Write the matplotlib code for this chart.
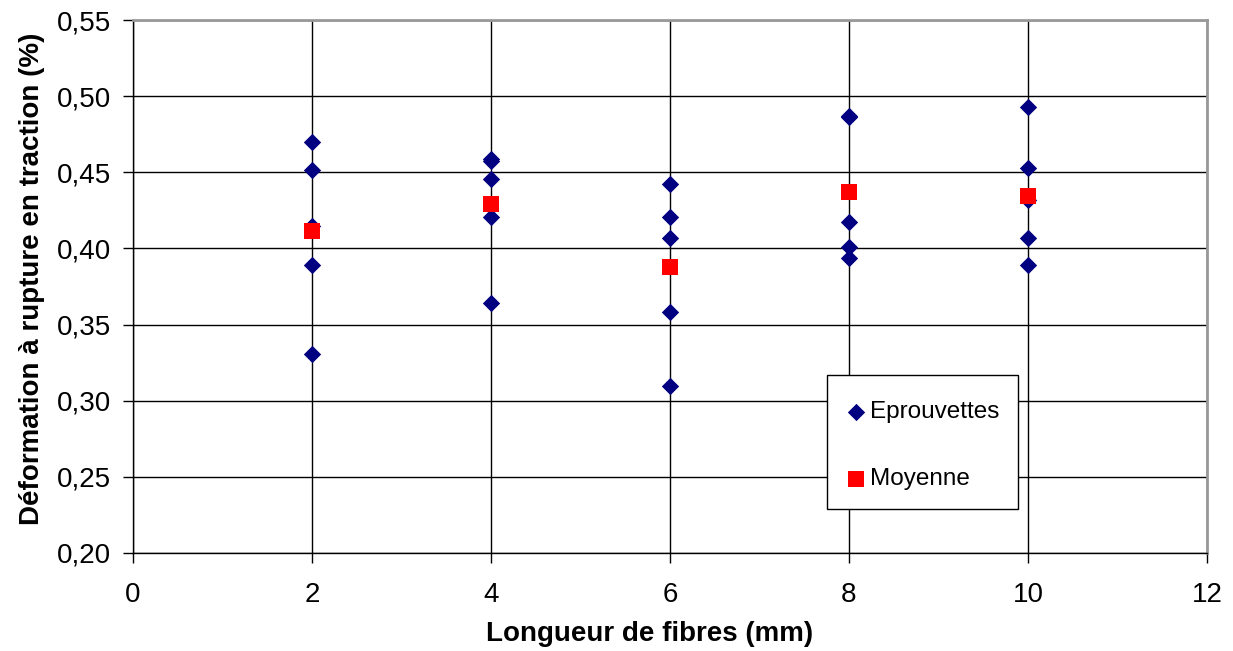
import matplotlib.pyplot as plt
import matplotlib.patches as mpatches
import numpy as np

plt.rcParams['font.family'] = ['Liberation Sans', 'DejaVu Sans']

# deformation a rupture par eprouvette, pour chaque longueur de fibres
longueurs = [2, 4, 6, 8, 10]
eprouvettes = [
    [0.470, 0.4515, 0.415, 0.389, 0.331],
    [0.4574, 0.4584, 0.4454, 0.4204, 0.3644],
    [0.4421, 0.4209, 0.407, 0.3585, 0.3097],
    [0.4865, 0.4872, 0.4172, 0.4011, 0.3935],
    [0.4927, 0.4527, 0.4315, 0.407, 0.3891],
]
moyennes = [0.4114, 0.4292, 0.388, 0.4371, 0.4346]

x_eprouv = []
y_eprouv = []
for lg, vals in zip(longueurs, eprouvettes):
    for v in vals:
        x_eprouv.append(lg)
        y_eprouv.append(v)

fig = plt.figure(figsize=(12.33, 6.51), dpi=100)
ax = fig.add_axes([133/1233, 98/651, 1074/1233, 533/651])

ax.set_xlim(0, 12)
ax.set_ylim(0.20, 0.55)
ax.set_xticks(np.arange(0, 13, 2))
yt = np.arange(0.20, 0.551, 0.05)
ax.set_yticks(yt)
ax.set_yticklabels([('%.2f' % t).replace('.', ',') for t in yt])

ax.grid(True, color='black', linewidth=1)
ax.set_axisbelow(True)

ax.scatter(x_eprouv, y_eprouv, marker='D', s=78, color='#000080', zorder=3,
           label='Eprouvettes', linewidths=0)
ax.scatter(longueurs, moyennes, marker='s', s=120, color='#ff0000', zorder=4,
           label='Moyenne', linewidths=0)

for side in ['top', 'right']:
    ax.spines[side].set_color('#999999')
    ax.spines[side].set_linewidth(2)
for side in ['left', 'bottom']:
    ax.spines[side].set_color('black')
    ax.spines[side].set_linewidth(1)

ax.tick_params(direction='out', length=7, width=1, labelsize=20)
ax.tick_params(axis='y', pad=9)
ax.tick_params(axis='x', pad=14)

ax.set_xlabel('Longueur de fibres (mm)', fontsize=20, fontweight='bold')
ax.xaxis.set_label_coords(0.481, -0.128)
ax.set_ylabel('Déformation à rupture en traction (%)', fontsize=20, fontweight='bold')
ax.yaxis.set_label_coords(-0.082, 0.514)

# cadre de la legende
cadre = mpatches.Rectangle((0.646, 0.0826), 0.178, 0.251, transform=ax.transAxes,
                           facecolor='white', edgecolor='black', linewidth=1, zorder=5)
ax.add_patch(cadre)

leg = ax.legend(loc='center', bbox_to_anchor=(0.7365, 0.2008), fontsize=17.5,
                frameon=False, labelspacing=1.85, handletextpad=0.25,
                handlelength=0.6, borderpad=0, borderaxespad=0)
leg.set_zorder(6)

plt.savefig('out.png', dpi=100)
